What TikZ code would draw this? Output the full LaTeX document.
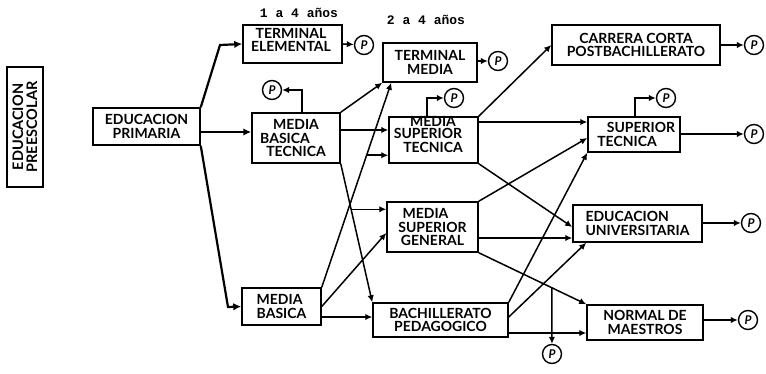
\documentclass[tikz,border=0pt]{standalone}
\usepackage{fontspec}
\setmainfont{Lato}
\newfontfamily\monof{Liberation Mono}
\usetikzlibrary{arrows.meta,calc}
\begin{document}
\begin{tikzpicture}[x=1pt,y=-1pt,
  box/.style={draw, line width=1.5pt, inner sep=0pt, align=center, font=\bfseries\fontsize{14}{13.5}\selectfont},
  btxt/.style={inner sep=0pt, align=center, font=\bfseries\fontsize{14}{13.5}\selectfont},
  pc/.style={draw, circle, line width=1.4pt, minimum size=19pt, inner sep=0pt, font=\itshape\bfseries\fontsize{12}{12}\selectfont},
  arr/.style={line width=1.5pt, -{Latex[length=7pt,width=6.5pt]}},
  tarr/.style={line width=2.2pt, -{Latex[length=8pt,width=7.5pt]}},
  lbl/.style={font=\monof\bfseries\fontsize{13}{13}\selectfont}]
\useasboundingbox (0,0) rectangle (766,374);
\fill[white] (0,0) rectangle (766,374);

% boxes
\node[box, rotate=90, minimum width=120pt, minimum height=36pt, line width=1.9pt, font=\bfseries\fontsize{14.5}{14}\selectfont] (pre) at (25,127) {EDUCACION\\PREESCOLAR};
\node[box, minimum width=107pt, minimum height=37pt] (prim) at (146.5,126.5) {EDUCACION\\PRIMARIA};
\node[box, minimum width=99pt, minimum height=38pt] (te) at (292.5,44) {};
\node[btxt] (tet) at (291,40) {TERMINAL\\ELEMENTAL};
\node[box, minimum width=94pt, minimum height=39pt] (tm) at (430,62.5) {TERMINAL\\MEDIA};
\node[box, minimum width=168pt, minimum height=40pt] (cc) at (636,45) {CARRERA CORTA\\POSTBACHILLERATO};
\node[box, minimum width=88pt, minimum height=50pt] (mbt) at (296,138) {MEDIA\\\mbox{BASICA\hspace{22pt}}\\TECNICA};
\node[box, minimum width=89pt, minimum height=46pt] (mst) at (433.5,140) {};
\node[btxt] (mstt) at (433,134) {MEDIA\\[-1pt]\mbox{SUPERIOR\hspace{10pt}}\\TECNICA};
\node[box, minimum width=92pt, minimum height=35pt] (st) at (634,134.5) {\mbox{\hspace{14pt}SUPERIOR}\\\mbox{TECNICA\hspace{14pt}}};
\node[box, minimum width=91pt, minimum height=50pt] (msg) at (432.5,227) {\mbox{MEDIA\hspace{14pt}}\\SUPERIOR\\GENERAL};
\node[box, minimum width=129pt, minimum height=37pt, align=left] (eu) at (637.5,223.5) {EDUCACION\\UNIVERSITARIA};
\node[box, minimum width=79pt, minimum height=37pt, align=left] (mb) at (281.5,306.5) {MEDIA\\BASICA};
\node[box, minimum width=135pt, minimum height=34pt] (bp) at (440.5,320) {BACHILLERATO\\PEDAGOGICO};
\node[box, minimum width=116pt, minimum height=35pt] (nm) at (645,322.5) {NORMAL DE\\MAESTROS};

% labels
\node[lbl] (l1) at (299,13) {1 a 4 años};
\node[lbl] (l2) at (426,20) {2 a 4 años};

% P circles
\node[pc] (pte) at (364,45) {P};
\node[pc] (ptm) at (498,61) {P};
\node[pc] (pcc) at (754,45) {P};
\node[pc] (pmbt) at (272,90) {P};
\node[pc] (pmst) at (454,98) {P};
\node[pc] (pst1) at (666,98) {P};
\node[pc] (pst2) at (754,134) {P};
\node[pc] (peu) at (751,223) {P};
\node[pc] (pnm) at (748,320) {P};
\node[pc] (pbp) at (552,354) {P};

% helper coordinates
\coordinate (k1) at (220,45);
\coordinate (k2) at (228,307);
\coordinate (r1) at (0,132);
\coordinate (r2) at (0,130);
\coordinate (r3) at (0,317);
\coordinate (r4) at (0,122);
\coordinate (r5) at (0,238);
\coordinate (r6) at (0,333);
\coordinate (r7) at (0,138);
\coordinate (c1) at (302,90);
\coordinate (c2) at (427,98);
\coordinate (c3) at (635,98);

% primaria
\draw[tarr] (prim.north east) -- (k1) -- (te.west);
\draw[tarr] (prim.east|-r1) -- (mbt.west|-r1);
\draw[tarr] (prim.south east) -- (k2) -- (mb.west);

% to P
\draw[arr] (te.east) -- (pte);
\draw[arr] (tm.east|-ptm) -- (ptm);
\draw[arr] (cc.east) -- (pcc);
\draw[arr] (mbt.north-|c1) -- (c1) -- (pmbt);
\draw[arr] (mst.north-|c2) -- (c2) -- (pmst);
\draw[arr] (st.north-|c3) -- (c3) -- (pst1);
\draw[arr] (st.east|-pst2) -- (pst2);
\draw[arr] (eu.east|-peu) -- (peu);
\draw[arr] (nm.east|-pnm) -- (pnm);

% media basica tecnica
\draw[arr] (mbt.north east) -- (tm.south west);
\draw[arr] (mbt.east|-r2) -- (mst.west|-r2);
\draw[arr] (mbt.south east) -- (bp.north west);
\coordinate (b2) at ($(mbt.south east)!0.3286!(bp.north west)$);
\draw[arr] (b2) -- (msg.west|-b2);

% media basica
\draw[arr] (mb.north east) -- ([xshift=9pt]tm.south west);
\coordinate (b1) at ($(mb.north east)!0.6456!([xshift=9pt]tm.south west)$);
\draw[arr] (b1) -- (mst.west|-b1);
\draw[arr] (mb.east) -- ([yshift=-6pt]msg.west);
\draw[arr] (mb.east|-r3) -- (bp.west|-r3);

% media superior tecnica
\draw[arr] (mst.north east) -- (cc.west);
\draw[arr] (mst.east|-r4) -- (st.west|-r4);
\draw[arr] (mst.south east) -- ([yshift=-3.5pt]eu.west);

% media superior general
\draw[arr] (msg.north east) -- (st.west|-r7);
\draw[arr] (msg.east|-r5) -- (eu.west|-r5);
\draw[arr] (msg.south east) -- (nm.north west);
\coordinate (b3) at ($(msg.south east)!0.679!(nm.north west)$);
\draw[arr] (b3) -- (pbp);

% bachillerato
\draw[arr] (bp.north east) -- (st.south west);
\draw[arr] (bp.east|-r3) -- ([xshift=14pt]eu.south west);
\draw[arr] (bp.east|-r6) -- (nm.west|-r6);
\end{tikzpicture}
\end{document}
